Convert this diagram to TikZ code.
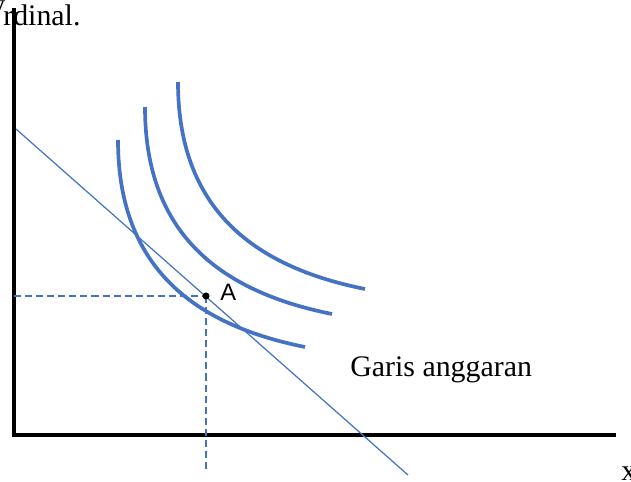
\documentclass[tikz,border=0pt]{standalone}
\usepackage{fontspec}
\setmainfont{Liberation Serif}
\newfontfamily\sansA{Liberation Sans}
\usepackage{tikz}
\usetikzlibrary{positioning}
\definecolor{curveblue}{HTML}{4472C4}

\begin{document}
\begin{tikzpicture}[x=0.02cm, y=-0.02cm,
    axis/.style={line width=2.3pt, black},
    indiff/.style={line width=2.1pt, curveblue},
    budget/.style={line width=0.7pt, curveblue},
    guide/.style={line width=0.7pt, curveblue, dash pattern=on 4pt off 2.3pt},
    lbl/.style={inner sep=0pt, font=\fontsize{17}{20}\selectfont}]

    \useasboundingbox (0,0) rectangle (631,481);
    \clip (0,0) rectangle (631,481);

    % Axes
    \coordinate (top) at (14,8);
    \coordinate (O) at (14,435);
    \coordinate (right) at (616,435);
    \draw[axis] (top) -- (O) -- (right);

    % Indifference curves (inner to outer)
    \foreach \dx/\dy in {0/0, 27/-33, 60/-58}
        \draw[indiff, shift={(\dx,\dy)}]
            (118,140) .. controls (118,260) and (185,323) .. (305,347);

    % Budget line
    \coordinate (B1) at (16,129);
    \coordinate (B2) at (408,475);
    \draw[budget] (B1) -- (B2);

    % Point A and its guides
    \coordinate (A) at (206,296);
    \coordinate (Abot) at (206,472);
    \draw[guide] (A -| O) -- (A);
    \draw[guide] (A) -- (Abot);
    \fill[black] (A) circle (2pt);
    \node[font=\sansA\fontsize{13.5}{16}\selectfont, inner sep=0pt,
        anchor=base west] (Alabel) at (220,300) {A};

    % Labels
    \node[lbl, anchor=base west] (budgetlbl) at (350,376) {Garis anggaran};
    \node[lbl, anchor=base west] (xlbl) at (621,480) {x};
    \node[lbl, anchor=base west] (ylbl) at (-10,14) {y};
    \node[lbl, anchor=base west] (title) at (3,25) {rdinal.};

\end{tikzpicture}
\end{document}
